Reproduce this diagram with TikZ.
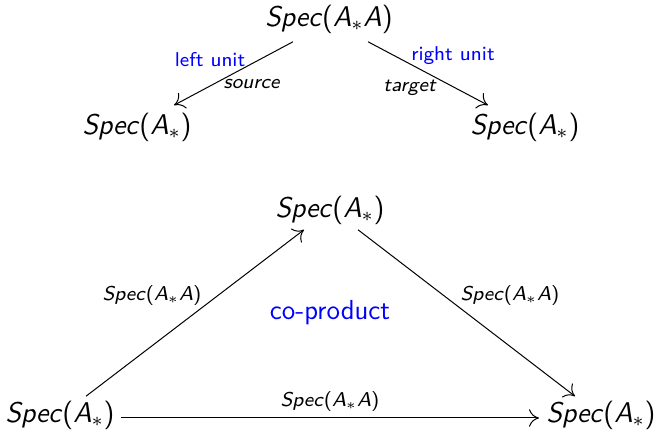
\documentclass[tikz,border=0pt]{standalone}
\renewcommand{\familydefault}{\sfdefault}
\usetikzlibrary{arrows.meta}
\newcommand{\myA}{\textit{A}}
\newcommand{\spec}[1]{\textit{Spec}(#1)}
\definecolor{myblue}{RGB}{0,0,255}
\begin{document}
\begin{tikzpicture}[x=0.4pt,y=-0.4pt,
  big/.style={inner sep=0pt,font=\fontsize{11.4}{13}\selectfont},
  small/.style={inner sep=0pt,font=\fontsize{8}{10}\selectfont},
  bluelab/.style={inner sep=0pt,text=myblue,font=\fontsize{8}{10}\selectfont},
  arr/.style={-{Computer Modern Rightarrow[length=4pt,width=7pt]},line width=0.4pt}]
\useasboundingbox (0,0) rectangle (656,431);
% top diagram
\node[big] (top) at (329,19) {\spec{\myA$_*$\myA}};
\node[big] (L) at (137,127) {\spec{\myA$_*$}};
\node[big] (R) at (525,127) {\spec{\myA$_*$}};
\node[bluelab] (lu) at (210,60) {left unit};
\node[small] (so) at (252,84) {\textit{source}};
\node[bluelab] (ru) at (453,56) {right unit};
\node[small] (ta) at (410,88) {\textit{target}};
\draw[arr] ([shift={(-36,8)}]top.south) -- ([shift={(37,-7)}]L.north);
\draw[arr] ([shift={(39,8)}]top.south) -- ([shift={(-37,-7)}]R.north);
% bottom diagram
\node[big] (M) at (330,210) {\spec{\myA$_*$}};
\node[big] (BL) at (60,415) {\spec{\myA$_*$}};
\node[big] (BR) at (601,415) {\spec{\myA$_*$}};
\node[inner sep=0pt,text=myblue,font=\fontsize{11}{13}\selectfont] (cp) at (330,313) {co-product};
\node[small] (l1) at (152,296) {\spec{\myA$_*$\myA}};
\node[small] (l2) at (510,296) {\spec{\myA$_*$\myA}};
\node[small] (l3) at (330,402) {\spec{\myA$_*$\myA}};
\draw[arr] ([shift={(26,-4)}]BL.north) -- ([shift={(-26,5)}]M.south);
\draw[arr] ([shift={(28,5)}]M.south) -- ([shift={(-26,-4)}]BR.north);
\draw[arr] ([shift={(6,3)}]BL.east) -- ([shift={(-7,3)}]BR.west);
\end{tikzpicture}
\end{document}
